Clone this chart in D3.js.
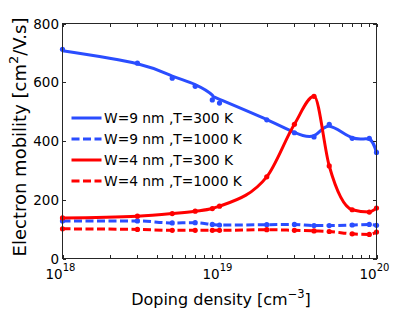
<!DOCTYPE html>
<meta charset="utf-8">
<head>
<style>
body { margin: 0; background: #fff; }
text { font-family: "DejaVu Sans", sans-serif; fill: #000; }
.frame { fill: none; stroke: #262626; stroke-width: 1; shape-rendering: crispEdges; }
.tick { stroke: #262626; stroke-width: 1; shape-rendering: crispEdges; }
.curve { fill: none; stroke-width: 3; }
</style>
</head>
<body>
<script src="https://cdn.jsdelivr.net/npm/d3@7"></script>
<script>
// doping densities (cm^-3)
var doping = [1e18, 3e18, 5e18, 7e18, 9e18, 1e19, 2e19, 3e19, 4e19, 5e19, 7e19, 9e19, 1e20];
// electron mobility (cm^2/V.s), measured points
var w9t300 = [712, 665, 614, 586, 540, 529, 472, 428, 414, 457, 409, 409, 361];
var w9t1000 = [128, 128, 121, 122, 116, 114, 115, 116, 112, 112, 114, 116, 113];
var w4t300 = [138, 144, 153, 161, 170, 178, 278, 457, 552, 315, 166, 158, 172];
var w4t1000 = [101, 99, 96, 96, 96, 96, 98, 96, 94, 92, 84, 82, 90];
// smoothed fit line for W=9 nm, T=300 K at the same dopings
var w9t300Fit = [707, 663, 621, 592, 556, 542, 473, 429, 418, 450, 411, 406, 361];
var yTicks = [0, 200, 400, 600, 800];
var xTicks = [1e18, 1e19, 1e20];
var legendNames = ["W=9 nm ,T=300 K", "W=9 nm ,T=1000 K", "W=4 nm ,T=300 K", "W=4 nm ,T=1000 K"];

var blue = "#2a4dff", red = "#ff0000";
var series = [
  { vals: w9t300, fit: w9t300Fit, color: blue, dash: null, curve: d3.curveNatural },
  { vals: w9t1000, fit: w9t1000, color: blue, dash: "8,3.5", curve: d3.curveMonotoneX },
  { vals: w4t300, fit: w4t300, color: red, dash: null, curve: d3.curveMonotoneX },
  { vals: w4t1000, fit: w4t1000, color: red, dash: "8,3.5", curve: d3.curveMonotoneX }
];

var W = 415, H = 312;
var plotL = 62.5, plotR = 376.5, plotT = 23.5, plotB = 258.5;

var svg = d3.select("body").append("svg")
  .attr("width", W).attr("height", H);

var x = d3.scaleLog().domain([1e18, 1e20]).range([plotL, plotR]);
var y = d3.scaleLinear().domain([0, 800]).range([plotB, plotT]);

// curves
var line = d3.line()
  .x(function (d, i) { return x(doping[i]); })
  .y(function (d) { return y(d); });

series.forEach(function (s) {
  svg.append("path")
    .attr("class", "curve")
    .attr("d", line.curve(s.curve)(s.fit))
    .attr("stroke", s.color)
    .attr("stroke-dasharray", s.dash);
  svg.selectAll(null)
    .data(s.vals)
    .enter().append("circle")
    .attr("cx", function (d, i) { return x(doping[i]); })
    .attr("cy", function (d) { return y(d); })
    .attr("r", 2.6)
    .attr("fill", s.color);
});

// box + ticks
svg.append("rect").attr("class", "frame")
  .attr("x", plotL).attr("y", plotT)
  .attr("width", plotR - plotL).attr("height", plotB - plotT);

var tl = 3.5;
var minor = x.ticks();
minor.forEach(function (t) {
  var px = Math.round(x(t)) + 0.5;
  svg.append("line").attr("class", "tick")
    .attr("x1", px).attr("x2", px).attr("y1", plotB).attr("y2", plotB - tl);
  svg.append("line").attr("class", "tick")
    .attr("x1", px).attr("x2", px).attr("y1", plotT).attr("y2", plotT + tl);
});
yTicks.forEach(function (t) {
  var py = Math.round(y(t)) + 0.5;
  svg.append("line").attr("class", "tick")
    .attr("x1", plotL).attr("x2", plotL + tl).attr("y1", py).attr("y2", py);
  svg.append("line").attr("class", "tick")
    .attr("x1", plotR).attr("x2", plotR - tl).attr("y1", py).attr("y2", py);
  svg.append("text")
    .attr("x", 59).attr("y", y(t) + 5)
    .attr("text-anchor", "end")
    .style("font-size", "13.5px")
    .text(t);
});

xTicks.forEach(function (t) {
  var txt = svg.append("text")
    .attr("x", x(t) - 2).attr("y", 279)
    .attr("text-anchor", "middle")
    .style("font-size", "13.5px");
  txt.append("tspan").text("10");
  txt.append("tspan").attr("dy", -8).style("font-size", "10px")
    .text(Math.round(Math.log10(t)));
});

// axis titles
var xt = svg.append("text")
  .attr("x", 221).attr("y", 305)
  .attr("text-anchor", "middle")
  .style("font-size", "16px");
xt.append("tspan").text("Doping density [cm");
xt.append("tspan").attr("dy", -7).style("font-size", "11.5px").text("\u22123");
xt.append("tspan").attr("dy", 7).text("]");

var yt = svg.append("text")
  .attr("transform", "translate(26,137) rotate(-90)")
  .attr("text-anchor", "middle")
  .style("font-size", "18px");
yt.append("tspan").text("Electron mobility [cm");
yt.append("tspan").attr("dy", -8).style("font-size", "13px").text("2");
yt.append("tspan").attr("dy", 8).text("/V.s]");

// legend
var legY = [118, 139, 160, 181];
series.forEach(function (s, i) {
  svg.append("line")
    .attr("x1", 71.5).attr("x2", 101.5)
    .attr("y1", legY[i]).attr("y2", legY[i])
    .attr("stroke", s.color).attr("stroke-width", 3)
    .attr("stroke-dasharray", s.dash);
  svg.append("text")
    .attr("x", 104).attr("y", legY[i] + 5)
    .style("font-size", "13.8px")
    .text(legendNames[i]);
});
</script>
</body>
